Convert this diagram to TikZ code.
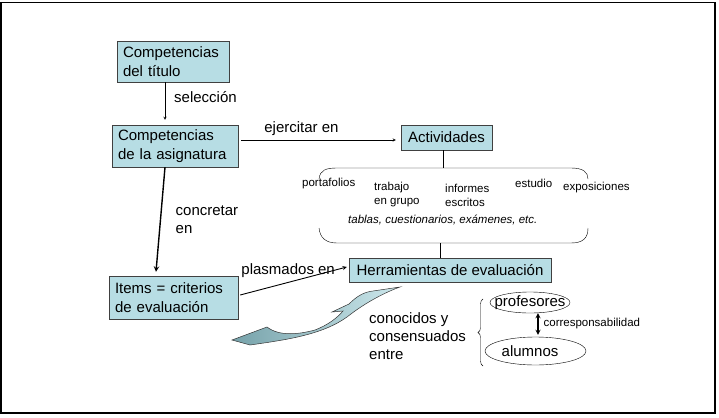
\documentclass[tikz,border=0pt]{standalone}
\usepackage{fontspec}
\setmainfont{Liberation Sans}
\usetikzlibrary{shapes.geometric,decorations.pathreplacing}
\definecolor{cajaazul}{RGB}{183,221,228}
\definecolor{flechaosc}{RGB}{118,162,170}
\definecolor{flechaclara}{RGB}{205,232,236}
\tikzset{
  caja/.style={draw=black!75, fill=cajaazul, font=\fontsize{15}{18.5}\selectfont, inner xsep=6pt, inner ysep=1pt, align=left},
  rotulo/.style={font=\fontsize{15}{18}\selectfont, align=left, inner sep=0pt},
  peque/.style={font=\fontsize{11.5}{14}\selectfont, align=left, inner sep=0pt, anchor=west},
  elipse/.style={draw, ellipse, inner sep=0pt, font=\fontsize{15}{18}\selectfont},
}

\begin{document}
\begin{tikzpicture}[x=1pt, y=-1pt, >=stealth]
  \useasboundingbox (0,0) rectangle (719,417);
  \draw[line width=1.5pt] (1,2.5) rectangle (715,413);

  % cajas
  \node[caja, text width=100pt, minimum height=41pt] (tit) at (173,61.5) {Competencias\\del título};
  \node[caja, text width=114pt, minimum height=42pt] (asig) at (175,146) {Competencias\\de la asignatura};
  \node[caja, text width=117pt, minimum height=43pt] (items) at (173.5,297.5) {Items = criterios\\de evaluación};
  \node[caja, minimum width=91pt, minimum height=25pt] (act) at (446.5,137.5) {Actividades};
  \node[caja, minimum width=202pt, minimum height=24pt] (herr) at (450,270) {Herramientas de evaluación};

  % flechas
  \draw[->] ([xshift=-8pt]tit.south) -- node[rotulo, right=9pt, yshift=4pt] (lsel) {selección} ([xshift=-10pt, yshift=5pt]asig.north);
  \draw[->] ([xshift=3pt, yshift=6pt]asig.east) -- node[rotulo, pos=0.39, above=4pt] (lejer) {ejercitar en} ([xshift=-5pt, yshift=-2.5pt]act.west);
  \draw[->, line width=1.4pt] ([xshift=-10pt]asig.south) -- node[rotulo, right=14.5pt] (lconc) {concretar\\en} ([xshift=-17.5pt, yshift=4pt]items.north);
  \draw[->, line width=0.9pt] ([xshift=2pt, yshift=2.5pt]items.east) -- node[rotulo, pos=0.45, above=4pt] (lplas) {plasmados en} ([xshift=-2pt, yshift=3pt]herr.west);

  % grupo de actividades
  \coordinate (grpT) at (443,168);
  \coordinate (grpB) at (440,243);
  \draw ([xshift=-3.5pt]act.south) -- (grpT);
  \draw (grpB) -- ([xshift=-10pt]herr.north);
  \draw (319,179) .. controls (320,170) and (326,168) .. (337,168) -- (571,168) .. controls (583,168) and (588,172) .. (588,179);
  \draw (319,228) .. controls (320,238) and (326,243) .. (337,243) -- (571,243) .. controls (583,243) and (588,238) .. (588,228);
  \node[peque] (port) at (302,184) {portafolios};
  \node[peque] (trab) at (374,195) {trabajo\\en grupo};
  \node[peque] (inf) at (445,195) {informes\\escritos};
  \node[peque] (est) at (515,183) {estudio};
  \node[peque] (expo) at (563,188) {exposiciones};
  \node[peque, font=\fontsize{11.5}{14}\selectfont\itshape] (tab) at (348,220) {tablas, cuestionarios, exámenes, etc.};

  % flecha curva
  \shade[left color=flechaosc, right color=flechaclara, draw=black!80, line width=0.5pt]
    (232,340) -- (267,327) .. controls (280,337) and (300,334) .. (315,330)
    .. controls (328,325) and (337,318) .. (343,311) -- (332,312) -- (349,304)
    .. controls (357,296) and (364,292) .. (373,291) -- (400,287)
    .. controls (386,292) and (366,302) .. (347,317)
    .. controls (322,335) and (285,340) .. (250,345) -- cycle;

  % profesores y alumnos
  \node[rotulo, anchor=west] (cono) at (369,336) {conocidos y\\consensuados\\entre};
  \draw[decorate, decoration={brace, amplitude=5pt}] (483,366) -- (483,299);
  \node[elipse, minimum width=80pt, minimum height=21pt] (prof) at (530,302.5) {\makebox[0pt]{profesores}};
  \node[elipse, minimum width=101pt, minimum height=28pt] (alum) at (535.5,351) {\makebox[0pt]{alumnos\hspace{11pt}}};
  \draw[<->, line width=1.2pt] ([xshift=8pt]prof.south) -- node[peque, right=5pt] (lcorr) {corresponsabilidad} ([xshift=2.5pt, yshift=2pt]alum.north);
\end{tikzpicture}
\end{document}
